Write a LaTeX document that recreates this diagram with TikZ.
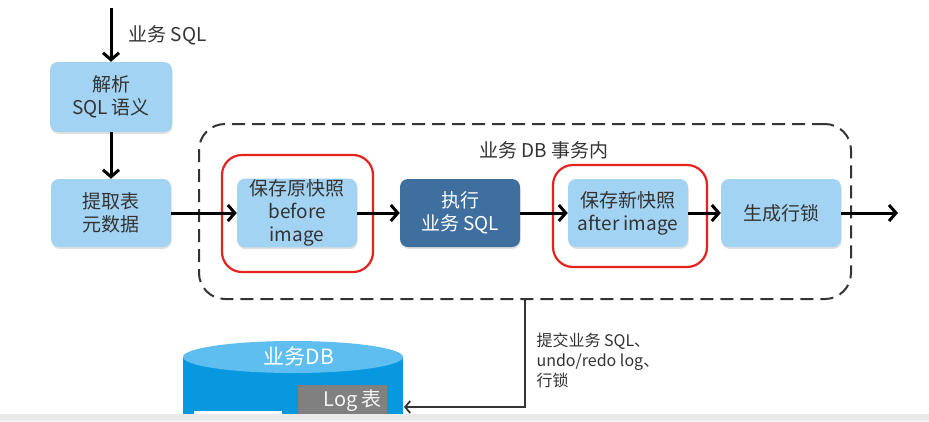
\documentclass[tikz,border=0pt]{standalone}
\usepackage{fontspec}
\setmainfont{Noto Sans CJK SC}
\usetikzlibrary{arrows.meta,shadows}
\definecolor{boxblue}{HTML}{A3D3F3}
\definecolor{darkbox}{HTML}{3E6F9E}
\definecolor{txtgray}{HTML}{333333}
\definecolor{redline}{HTML}{E5221F}
\definecolor{dbblue}{HTML}{0898E0}
\definecolor{dbtop}{HTML}{5FBEF0}
\definecolor{loggray}{HTML}{808080}
\definecolor{bandgray}{HTML}{EAEAEA}
\tikzset{
  stepbox/.style={rounded corners=8pt, fill=boxblue, minimum width=120pt, minimum height=68pt,
    align=center, text=txtgray, font=\fontsize{19pt}{23pt}\selectfont, inner sep=1pt,
    drop shadow={opacity=0.25, shadow xshift=0.6pt, shadow yshift=-1.8pt}},
  darkstep/.style={stepbox, fill=darkbox, text=white},
  flow/.style={line width=3pt, -{Straight Barb[length=7pt,width=16pt,line width=3pt]}},
  commit/.style={line width=1.8pt, draw=txtgray, -{Straight Barb[length=5pt,width=12pt,line width=1.8pt]}},
  redframe/.style={draw=redline, line width=2.2pt, rounded corners=20pt},
  txnbox/.style={draw=txtgray, line width=2pt, dash pattern=on 13pt off 7pt, rounded corners=26pt,
    minimum width=652pt, minimum height=175pt},
  lbl/.style={text=txtgray, font=\fontsize{19pt}{20pt}\selectfont}
}
\begin{document}
\begin{tikzpicture}[x=1pt,y=-1pt]
\useasboundingbox (0,0) rectangle (929,421);
\fill[white] (0,0) rectangle (929,421);

% transaction dashed box
\node[txnbox] (txn) at (525,211.5) {};
\node[lbl] (txnlabel) at (544,150) {业务 DB 事务内};

% red highlight frames
\draw[redframe] (222,155) rectangle (373,272);
\draw[redframe] (553,165) rectangle (707,267);

% step boxes
\node[stepbox, minimum width=122pt, minimum height=70pt] (parse) at (111,97) {解析\\SQL 语义};
\node[stepbox] (meta) at (111,213) {提取表\\元数据};
\node[stepbox] (before) at (297,213) {保存原快照\\before\\image};
\node[darkstep] (exec) at (460,213) {执行\\业务 SQL};
\node[stepbox] (after) at (628,213) {保存新快照\\after image};
\node[stepbox] (lock) at (781,213) {生成行锁};

% flow connectors
\coordinate (in) at (111,8);
\coordinate (out) at (898,213);
\draw[flow] (in) -- (parse.north);
\node[lbl, anchor=west] (inlabel) at (125,35) {业务 SQL};
\draw[flow] (parse.south) -- (meta.north);
\draw[flow] (meta.east) -- (before.west);
\draw[flow] (before.east) -- (exec.west);
\draw[flow] (exec.east) -- (after.west);
\draw[flow] (after.east) -- (lock.west);
\draw[flow] (lock.east) -- (out);

% database cylinder
\fill[dbblue] (183,357) rectangle (403,416);
\fill[dbtop] (293,357) ellipse [x radius=110pt, y radius=16pt];
\node[text=white, font=\fontsize{21pt}{24pt}\selectfont] (dblabel) at (299,356) {业务DB};
\node[fill=loggray, anchor=north west, minimum width=89pt, minimum height=31pt, inner sep=0pt,
      text=white!92!gray, font=\fontsize{20pt}{24pt}\selectfont] (log) at (298,385)
      {\hspace*{20pt}Log 表};
\fill[white] (194,411) rectangle (282,416);
\coordinate (dbR) at (404,407);

% commit connector
\coordinate (tp) at (txn.south -| 525,0);
\draw[commit] (tp) |- (dbR);
\node[text=txtgray, font=\fontsize{16pt}{20pt}\selectfont, anchor=west, align=left] (commitlabel) at (533,360) {提交业务 SQL、\\undo/redo log、\\行锁};

% bottom band
\fill[bandgray] (0,414) rectangle (929,421);
\end{tikzpicture}
\end{document}
